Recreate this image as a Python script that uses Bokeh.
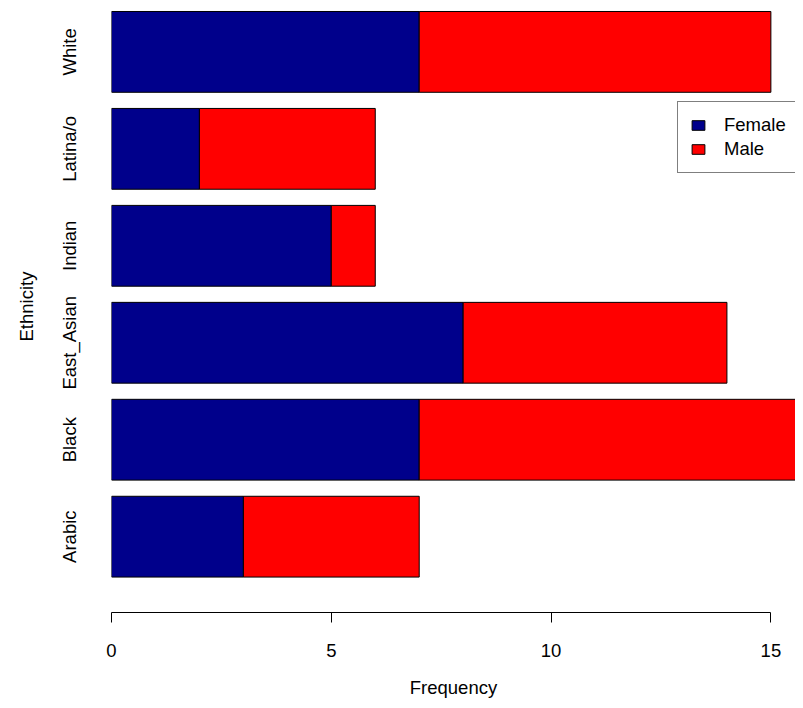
from bokeh.plotting import figure
from bokeh.models import ColumnDataSource, Range1d, FixedTicker, Legend
from bokeh.embed import file_html
from bokeh.resources import INLINE

# ---- data ----
categories = ["Arabic", "Black", "East_Asian", "Indian", "Latina/o", "White"]
female = [3, 7, 8, 5, 2, 7]
male = [4, 9, 6, 1, 4, 8]
x_ticks = [0, 5, 10, 15]

series = ["Female", "Male"]
colors = ["#00008B", "#FF0000"]

FONT = "Liberation Sans"
FS = "18.5px"

pos = list(range(len(categories)))
source = ColumnDataSource(dict(y=pos, Female=female, Male=male, name=categories))

p = figure(
    width=795, height=700,
    output_backend="svg", toolbar_location=None,
    x_range=Range1d(0, 15.56), y_range=Range1d(-0.782, 5.530),
    min_border_left=111, min_border_right=0, min_border_top=0, min_border_bottom=88,
)
p.outline_line_color = None
p.grid.visible = False
p.background_fill_color = "white"
p.border_fill_color = "white"

renderers = p.hbar_stack(series, y="y", height=1 / 1.2, color=colors,
                         line_color="black", line_width=1, source=source)

# x axis
xa = p.xaxis[0]
xa.ticker = FixedTicker(ticks=x_ticks)
xa.bounds = (0, 15)
xa.axis_line_color = "black"
xa.major_tick_line_color = "black"
xa.major_tick_out = 10
xa.major_tick_in = 0
xa.minor_tick_line_color = None
xa.major_label_text_font = FONT
xa.major_label_text_font_size = FS
xa.major_label_text_color = "black"
xa.major_label_standoff = 21
xa.axis_label = "Frequency"
xa.axis_label_text_font = FONT
xa.axis_label_text_font_size = FS
xa.axis_label_text_font_style = "normal"
xa.axis_label_text_color = "black"
xa.axis_label_standoff = 17

# y axis
ya = p.yaxis[0]
ya.ticker = FixedTicker(ticks=pos)
ya.major_label_overrides = {i: c for i, c in zip(pos, categories)}
ya.major_label_orientation = "vertical"
ya.axis_line_color = None
ya.major_tick_line_color = None
ya.minor_tick_line_color = None
ya.major_label_text_font = FONT
ya.major_label_text_font_size = FS
ya.major_label_text_color = "black"
ya.major_label_standoff = 25
ya.axis_label = "Ethnicity"
ya.axis_label_text_font = FONT
ya.axis_label_text_font_size = FS
ya.axis_label_text_font_style = "normal"
ya.axis_label_text_color = "black"
ya.axis_label_standoff = 20

legend = Legend(
    items=[(s, [r]) for s, r in zip(series, renderers)],
    location=(566, 439),
    border_line_color="black", border_line_width=1,
    background_fill_color="white", background_fill_alpha=1,
    label_text_font=FONT, label_text_font_size=FS, label_text_color="black",
    glyph_width=16, glyph_height=12, label_height=20,
    spacing=2, padding=12, margin=0, label_standoff=18,
)
p.add_layout(legend, "center")

open("out.html", "w").write(file_html(p, INLINE))
